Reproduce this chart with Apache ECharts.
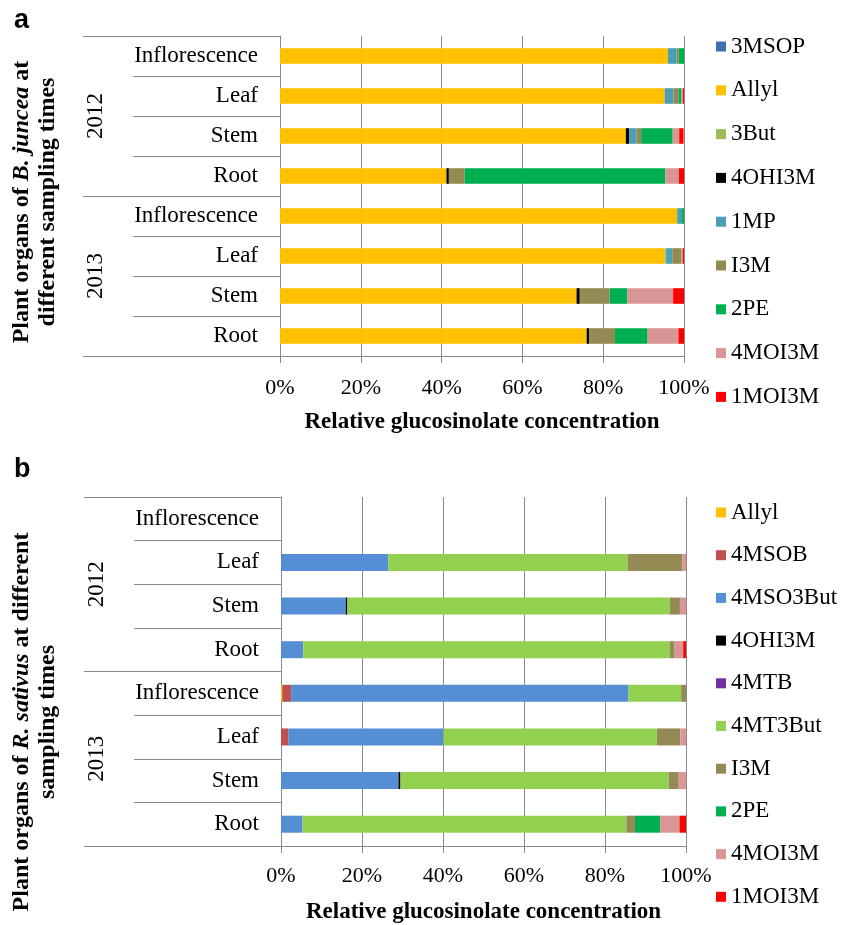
<!DOCTYPE html>
<html><head><meta charset="utf-8">
<script src="https://cdn.jsdelivr.net/npm/echarts@6/dist/echarts.min.js"></script>
<style>html,body{margin:0;padding:0;background:#fff}#c{width:844px;height:925px}</style>
</head><body><div id="c"></div>
<script>
// ---------- data ----------
const organs = ['Inflorescence','Leaf','Stem','Root','Inflorescence','Leaf','Stem','Root'];
const years = ['2012','2013'];

// Panel a: B. juncea (relative %, rows top->bottom)
const aNames = ['3MSOP','Allyl','3But','4OHI3M','1MP','I3M','2PE','4MOI3M','1MOI3M'];
const a_3MSOP  = [0,0,0,0,0,0,0,0];
const a_Allyl  = [96.0,95.2,85.6,41.2,98.3,95.2,73.4,75.9];
const a_3But   = [0,0,0,0,0,0.4,0,0];
const a_4OHI3M = [0,0,0.8,0.6,0,0,0.8,0.6];
const a_1MP    = [2.2,2.2,1.8,0,1.2,1.5,0,0];
const a_I3M    = [0.5,1.2,1.2,3.9,0,2.3,7.4,6.4];
const a_2PE    = [1.3,0.8,7.8,49.7,0.5,0,4.4,8.1];
const a_4MOI3M = [0,0.3,1.6,3.3,0,0.3,11.3,7.6];
const a_1MOI3M = [0,0.3,1.1,1.4,0,0.3,2.7,1.5];
const aValues = [a_3MSOP,a_Allyl,a_3But,a_4OHI3M,a_1MP,a_I3M,a_2PE,a_4MOI3M,a_1MOI3M];

// Panel b: R. sativus
const bNames = ['Allyl','4MSOB','4MSO3But','4OHI3M','4MTB','4MT3But','I3M','2PE','4MOI3M','1MOI3M'];
const b_Allyl    = [0,0,0,0,0.3,0,0,0];
const b_4MSOB    = [0,0,0,0,2.2,1.8,0,0];
const b_4MSO3But = [0,26.5,16.0,5.5,83.3,38.3,29.0,5.3];
const b_4OHI3M   = [0,0,0.4,0,0,0,0.5,0];
const b_4MTB     = [0,0,0,0,0,0,0,0];
const b_4MT3But  = [0,59.1,79.6,90.5,13.0,52.7,66.2,80.0];
const b_I3M      = [0,13.5,2.5,1.2,1.2,5.8,2.5,2.1];
const b_2PE      = [0,0,0,0,0,0,0,6.2];
const b_4MOI3M   = [0,0.9,1.5,2.1,0,1.5,1.9,4.8];
const b_1MOI3M   = [0,0,0,0.7,0,0,0,1.6];
const bValues = [b_Allyl,b_4MSOB,b_4MSO3But,b_4OHI3M,b_4MTB,b_4MT3But,b_I3M,b_2PE,b_4MOI3M,b_1MOI3M];

// ---------- styles ----------
const colors = {
  '3MSOP':'#3E6FAE','Allyl':'#FFC000','3But':'#9BBB59','4OHI3M':'#000000','1MP':'#4A9EB5',
  'I3M':'#948A54','2PE':'#00B050','4MOI3M':'#DA9694','1MOI3M':'#FF0000',
  '4MSOB':'#C0504D','4MSO3But':'#558ED5','4MTB':'#7030A0','4MT3But':'#92D050'
};
const SERIF = '"Liberation Serif","Times New Roman",serif';
const GRAY = '#8a8a8a';

function xAxisCfg(gi, margin, gap) {
  return {
    type:'value', gridIndex:gi, min:0, max:100, interval:20,
    axisLine:{show:true, lineStyle:{color:GRAY}},
    axisTick:{show:true, length:7, lineStyle:{color:GRAY}},
    splitLine:{show:true, lineStyle:{color:GRAY, width:1}},
    axisLabel:{formatter:'{value}%', fontFamily:SERIF, fontSize:22, color:'#000', margin:margin},
    name:'Relative glucosinolate concentration', nameLocation:'middle', nameGap:gap,
    nameTextStyle:{fontFamily:SERIF, fontSize:23, fontWeight:'bold', color:'#000'}
  };
}
function organAxis(gi) {
  return {
    type:'category', gridIndex:gi, position:'left', inverse:true, data:organs,
    axisLine:{show:true, lineStyle:{color:GRAY}},
    axisTick:{show:true, interval:0, length:147, lineStyle:{color:GRAY}},
    axisLabel:{interval:0, fontFamily:SERIF, fontSize:23, color:'#000', margin:22},
    splitLine:{show:false}
  };
}
function yearAxis(gi) {
  return {
    type:'category', gridIndex:gi, position:'left', offset:0, inverse:true, data:years,
    axisLine:{show:false},
    axisTick:{show:true, interval:0, length:197, lineStyle:{color:GRAY}},
    axisLabel:{interval:0, rotate:90, fontFamily:SERIF, fontSize:23, color:'#000', margin:173},
    splitLine:{show:false}
  };
}

const series = [];
aNames.forEach((n,i)=>series.push({
  name:n, type:'bar', stack:'a', xAxisIndex:0, yAxisIndex:0, barWidth:'39%',
  itemStyle:{color:colors[n]}, data:aValues[i]
}));
bNames.forEach((n,i)=>series.push({
  name:n, type:'bar', stack:'b', xAxisIndex:1, yAxisIndex:2, barWidth:'39%',
  itemStyle:{color:colors[n]}, data:bValues[i]
}));

const legendBase = {
  type:'plain', orient:'vertical', icon:'rect', itemWidth:10, itemHeight:10, padding:0,
  textStyle:{fontFamily:SERIF, fontSize:23, color:'#000', lineHeight:22}
};

const titleRich = {
  n:{fontFamily:SERIF, fontSize:24, fontWeight:'bold', fill:'#000', lineHeight:26},
  i:{fontFamily:SERIF, fontSize:24, fontWeight:'bold', fontStyle:'italic', fill:'#000', lineHeight:26}
};

const option = {
  animation:false,
  backgroundColor:'#fff',
  grid:[
    {left:280, top:36, width:404, height:320},
    {left:281, top:497, width:405, height:352}
  ],
  xAxis:[xAxisCfg(0,21,55), xAxisCfg(1,19,55)],
  yAxis:[organAxis(0), yearAxis(0), organAxis(1), yearAxis(1)],
  legend:[
    Object.assign({}, legendBase, {left:716, top:35, height:400, itemGap:20.8, data:aNames}),
    Object.assign({}, legendBase, {left:716, top:501, height:420, itemGap:19.7, data:bNames})
  ],
  graphic:[
    {type:'text', left:14, top:7, style:{text:'a', font:'bold 27px "Liberation Sans",Arial,sans-serif', fill:'#000'}},
    {type:'text', left:14, top:456, style:{text:'b', font:'bold 27px "Liberation Sans",Arial,sans-serif', fill:'#000'}},
    {type:'text', x:35, y:202, rotation:Math.PI/2,
     style:{text:'{n|Plant organs of }{i|B. juncea}{n| at}\n{n|different sampling times}',
            rich:titleRich, align:'center', verticalAlign:'middle'}},
    {type:'text', x:35, y:722, rotation:Math.PI/2,
     style:{text:'{n|Plant organs of }{i|R. sativus}{n| at different}\n{n|sampling times}',
            rich:titleRich, align:'center', verticalAlign:'middle'}}
  ],
  series:series
};
const chart = echarts.init(document.getElementById('c'), null, {renderer:'canvas'});
chart.setOption(option);
</script>
</body></html>
